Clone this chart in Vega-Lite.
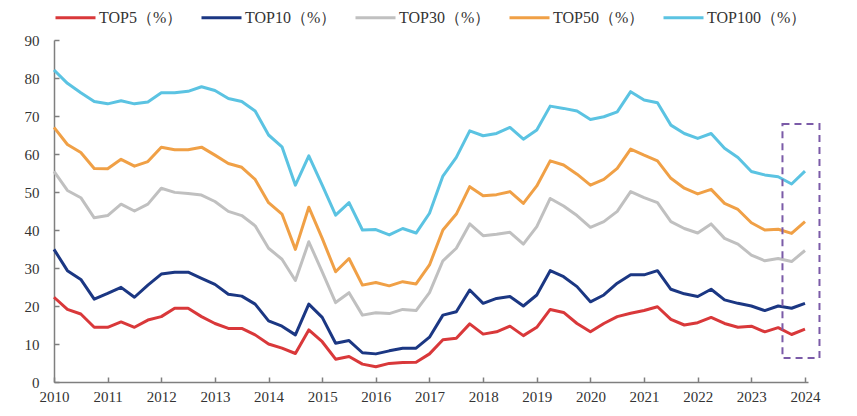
{
  "$schema": "https://vega.github.io/schema/vega-lite/v6.json",
  "width": 754,
  "height": 342,
  "autosize": {"type": "none"},
  "padding": {"left": 54, "top": 40, "right": 49, "bottom": 34},
  "background": "white",
  "config": {
    "view": {"stroke": null},
    "axis": {
      "grid": false,
      "domainColor": "#7f7f7f",
      "domainWidth": 1.5,
      "tickColor": "#7f7f7f",
      "tickWidth": 1.5,
      "tickSize": -5,
      "labelFont": "Liberation Serif",
      "labelFontSize": 15,
      "labelColor": "#333333",
      "title": null
    },
    "legend": {
      "orient": "none",
      "legendX": 0,
      "legendY": -44,
      "direction": "horizontal",
      "symbolType": "stroke",
      "symbolSize": 1600,
      "symbolStrokeWidth": 3,
      "labelFont": "Liberation Serif",
      "labelFontSize": 16,
      "labelColor": "#333333",
      "labelOffset": 2,
      "labelLimit": 300,
      "columnPadding": 12,
      "title": null
    }
  },
  "datasets": {
    "series": [
      {"t": 2010.00, "TOP5": 22.3, "TOP10": 34.9, "TOP30": 55.4, "TOP50": 67.0, "TOP100": 82.1},
      {"t": 2010.25, "TOP5": 19.1, "TOP10": 29.3, "TOP30": 50.4, "TOP50": 62.5, "TOP100": 78.6},
      {"t": 2010.50, "TOP5": 17.9, "TOP10": 27.0, "TOP30": 48.5, "TOP50": 60.4, "TOP100": 76.1},
      {"t": 2010.75, "TOP5": 14.4, "TOP10": 21.8, "TOP30": 43.2, "TOP50": 56.2, "TOP100": 73.8},
      {"t": 2011.00, "TOP5": 14.4, "TOP10": 23.3, "TOP30": 43.8, "TOP50": 56.1, "TOP100": 73.2},
      {"t": 2011.25, "TOP5": 15.8, "TOP10": 24.9, "TOP30": 46.8, "TOP50": 58.6, "TOP100": 74.0},
      {"t": 2011.50, "TOP5": 14.4, "TOP10": 22.3, "TOP30": 45.0, "TOP50": 56.8, "TOP100": 73.2},
      {"t": 2011.75, "TOP5": 16.3, "TOP10": 25.5, "TOP30": 46.8, "TOP50": 58.0, "TOP100": 73.7},
      {"t": 2012.00, "TOP5": 17.2, "TOP10": 28.4, "TOP30": 51.0, "TOP50": 61.8, "TOP100": 76.1},
      {"t": 2012.25, "TOP5": 19.4, "TOP10": 28.9, "TOP30": 49.9, "TOP50": 61.1, "TOP100": 76.1},
      {"t": 2012.50, "TOP5": 19.4, "TOP10": 28.9, "TOP30": 49.6, "TOP50": 61.1, "TOP100": 76.5},
      {"t": 2012.75, "TOP5": 17.2, "TOP10": 27.3, "TOP30": 49.2, "TOP50": 61.8, "TOP100": 77.7},
      {"t": 2013.00, "TOP5": 15.4, "TOP10": 25.7, "TOP30": 47.5, "TOP50": 59.7, "TOP100": 76.7},
      {"t": 2013.25, "TOP5": 14.1, "TOP10": 23.1, "TOP30": 44.9, "TOP50": 57.5, "TOP100": 74.6},
      {"t": 2013.50, "TOP5": 14.1, "TOP10": 22.6, "TOP30": 43.8, "TOP50": 56.5, "TOP100": 73.8},
      {"t": 2013.75, "TOP5": 12.4, "TOP10": 20.5, "TOP30": 41.1, "TOP50": 53.3, "TOP100": 71.3},
      {"t": 2014.00, "TOP5": 10.0, "TOP10": 16.1, "TOP30": 35.2, "TOP50": 47.2, "TOP100": 65.0},
      {"t": 2014.25, "TOP5": 8.9, "TOP10": 14.7, "TOP30": 32.3, "TOP50": 44.2, "TOP100": 61.9},
      {"t": 2014.50, "TOP5": 7.5, "TOP10": 12.4, "TOP30": 26.7, "TOP50": 34.9, "TOP100": 51.8},
      {"t": 2014.75, "TOP5": 13.7, "TOP10": 20.5, "TOP30": 36.9, "TOP50": 46.0, "TOP100": 59.5},
      {"t": 2015.00, "TOP5": 10.6, "TOP10": 17.0, "TOP30": 29.0, "TOP50": 37.8, "TOP100": 51.8},
      {"t": 2015.25, "TOP5": 6.0, "TOP10": 10.2, "TOP30": 20.9, "TOP50": 29.0, "TOP100": 43.9},
      {"t": 2015.50, "TOP5": 6.7, "TOP10": 10.9, "TOP30": 23.5, "TOP50": 32.5, "TOP100": 47.2},
      {"t": 2015.75, "TOP5": 4.7, "TOP10": 7.7, "TOP30": 17.6, "TOP50": 25.5, "TOP100": 40.0},
      {"t": 2016.00, "TOP5": 4.0, "TOP10": 7.4, "TOP30": 18.2, "TOP50": 26.2, "TOP100": 40.1},
      {"t": 2016.25, "TOP5": 4.9, "TOP10": 8.2, "TOP30": 18.0, "TOP50": 25.3, "TOP100": 38.7},
      {"t": 2016.50, "TOP5": 5.1, "TOP10": 8.9, "TOP30": 19.1, "TOP50": 26.4, "TOP100": 40.4},
      {"t": 2016.75, "TOP5": 5.2, "TOP10": 8.9, "TOP30": 18.8, "TOP50": 25.8, "TOP100": 39.2},
      {"t": 2017.00, "TOP5": 7.4, "TOP10": 11.8, "TOP30": 23.5, "TOP50": 30.8, "TOP100": 44.4},
      {"t": 2017.25, "TOP5": 11.1, "TOP10": 17.6, "TOP30": 31.9, "TOP50": 40.0, "TOP100": 54.2},
      {"t": 2017.50, "TOP5": 11.5, "TOP10": 18.5, "TOP30": 35.2, "TOP50": 44.2, "TOP100": 59.1},
      {"t": 2017.75, "TOP5": 15.3, "TOP10": 24.2, "TOP30": 41.6, "TOP50": 51.4, "TOP100": 66.1},
      {"t": 2018.00, "TOP5": 12.6, "TOP10": 20.7, "TOP30": 38.5, "TOP50": 49.0, "TOP100": 64.8},
      {"t": 2018.25, "TOP5": 13.2, "TOP10": 22.0, "TOP30": 38.9, "TOP50": 49.3, "TOP100": 65.4},
      {"t": 2018.50, "TOP5": 14.7, "TOP10": 22.5, "TOP30": 39.4, "TOP50": 50.1, "TOP100": 67.0},
      {"t": 2018.75, "TOP5": 12.2, "TOP10": 20.0, "TOP30": 36.3, "TOP50": 47.0, "TOP100": 63.9},
      {"t": 2019.00, "TOP5": 14.4, "TOP10": 22.9, "TOP30": 40.9, "TOP50": 51.6, "TOP100": 66.3},
      {"t": 2019.25, "TOP5": 19.1, "TOP10": 29.3, "TOP30": 48.3, "TOP50": 58.2, "TOP100": 72.6},
      {"t": 2019.50, "TOP5": 18.3, "TOP10": 27.7, "TOP30": 46.3, "TOP50": 57.1, "TOP100": 72.0},
      {"t": 2019.75, "TOP5": 15.4, "TOP10": 25.1, "TOP30": 43.8, "TOP50": 54.7, "TOP100": 71.3},
      {"t": 2020.00, "TOP5": 13.2, "TOP10": 21.1, "TOP30": 40.7, "TOP50": 51.8, "TOP100": 69.1},
      {"t": 2020.25, "TOP5": 15.4, "TOP10": 22.9, "TOP30": 42.2, "TOP50": 53.3, "TOP100": 69.8},
      {"t": 2020.50, "TOP5": 17.2, "TOP10": 26.0, "TOP30": 44.9, "TOP50": 56.2, "TOP100": 71.1},
      {"t": 2020.75, "TOP5": 18.1, "TOP10": 28.2, "TOP30": 50.1, "TOP50": 61.3, "TOP100": 76.4},
      {"t": 2021.00, "TOP5": 18.8, "TOP10": 28.2, "TOP30": 48.5, "TOP50": 59.7, "TOP100": 74.2},
      {"t": 2021.25, "TOP5": 19.8, "TOP10": 29.3, "TOP30": 47.2, "TOP50": 58.2, "TOP100": 73.5},
      {"t": 2021.50, "TOP5": 16.5, "TOP10": 24.4, "TOP30": 42.2, "TOP50": 53.6, "TOP100": 67.6},
      {"t": 2021.75, "TOP5": 15.0, "TOP10": 23.2, "TOP30": 40.4, "TOP50": 51.0, "TOP100": 65.4},
      {"t": 2022.00, "TOP5": 15.6, "TOP10": 22.5, "TOP30": 39.2, "TOP50": 49.5, "TOP100": 64.1},
      {"t": 2022.25, "TOP5": 17.0, "TOP10": 24.4, "TOP30": 41.6, "TOP50": 50.7, "TOP100": 65.4},
      {"t": 2022.50, "TOP5": 15.4, "TOP10": 21.6, "TOP30": 37.8, "TOP50": 47.0, "TOP100": 61.5},
      {"t": 2022.75, "TOP5": 14.4, "TOP10": 20.7, "TOP30": 36.3, "TOP50": 45.4, "TOP100": 59.1},
      {"t": 2023.00, "TOP5": 14.7, "TOP10": 20.0, "TOP30": 33.4, "TOP50": 41.9, "TOP100": 55.4},
      {"t": 2023.25, "TOP5": 13.2, "TOP10": 18.8, "TOP30": 31.9, "TOP50": 40.0, "TOP100": 54.5},
      {"t": 2023.50, "TOP5": 14.3, "TOP10": 20.0, "TOP30": 32.5, "TOP50": 40.2, "TOP100": 54.0},
      {"t": 2023.75, "TOP5": 12.5, "TOP10": 19.4, "TOP30": 31.7, "TOP50": 39.1, "TOP100": 52.1},
      {"t": 2024.00, "TOP5": 13.9, "TOP10": 20.7, "TOP30": 34.6, "TOP50": 42.2, "TOP100": 55.5}
    ],
    "box": [
      {"t0": 2023.58, "t1": 2024.27, "v0": 6.3, "v1": 67.9}
    ]
  },
  "layer": [
    {
      "data": {"name": "series"},
      "transform": [
        {"fold": ["TOP5", "TOP10", "TOP30", "TOP50", "TOP100"], "as": ["series", "value"]}
      ],
      "mark": {"type": "line", "strokeWidth": 3, "strokeJoin": "round"},
      "encoding": {
        "x": {
          "field": "t",
          "type": "quantitative",
          "scale": {"domain": [2010, 2024.056], "nice": false, "zero": false},
          "axis": {
            "values": [2010, 2011, 2012, 2013, 2014, 2015, 2016, 2017, 2018, 2019, 2020, 2021, 2022, 2023, 2024],
            "format": "d",
            "labelPadding": 12,
            "labelFlush": false,
            "labelOverlap": false
          }
        },
        "y": {
          "field": "value",
          "type": "quantitative",
          "scale": {"domain": [0, 90], "nice": false},
          "axis": {
            "values": [0, 10, 20, 30, 40, 50, 60, 70, 80, 90],
            "tickCount": 10,
            "labelPadding": 20,
            "labelOverlap": false,
            "labelFlush": false,
            "labelBound": false
          }
        },
        "color": {
          "field": "series",
          "type": "nominal",
          "scale": {
            "domain": ["TOP5", "TOP10", "TOP30", "TOP50", "TOP100"],
            "range": ["#D9383A", "#1B3783", "#C0C0C0", "#F0A046", "#5BC3E2"]
          },
          "legend": {"labelExpr": "datum.label + '（%）'"}
        }
      }
    },
    {
      "data": {"name": "box"},
      "mark": {"type": "rect", "fill": null, "stroke": "#7B5BA8", "strokeWidth": 2, "strokeDash": [7, 5]},
      "encoding": {
        "x": {"field": "t0", "type": "quantitative"},
        "x2": {"field": "t1"},
        "y": {"field": "v0", "type": "quantitative"},
        "y2": {"field": "v1"}
      }
    }
  ]
}
